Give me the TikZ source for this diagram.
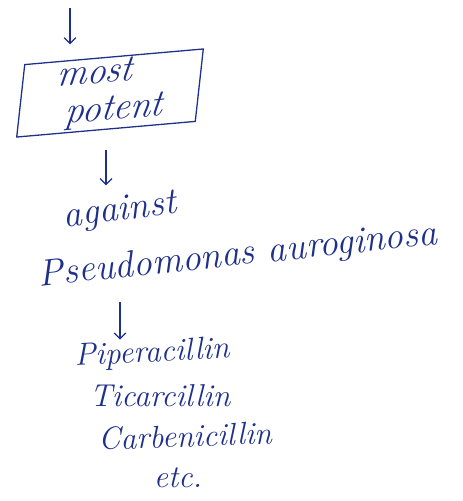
\documentclass[tikz,border=0pt]{standalone}
\usepackage{tikz}
\usetikzlibrary{arrows.meta,positioning}
\definecolor{inkblue}{HTML}{1E2F8C}
\tikzset{
  ink/.style={inkblue,line width=1.1pt},
  flowarrow/.style={-{Straight Barb[length=5pt,width=10pt]},ink},
  note/.style={text=inkblue,font=\fontsize{32}{36}\selectfont\itshape,inner sep=1pt},
  druglabel/.style={text=inkblue,font=\fontsize{27}{30}\selectfont\itshape,inner sep=0pt},
  notebox/.style={draw=inkblue,line width=1.1pt,note,align=left,minimum width=153pt,minimum height=61pt,inner xsep=14pt}
}
\begin{document}
\begin{tikzpicture}[x=0.03cm,y=-0.03cm]
  \useasboundingbox (0,0) rectangle (462,501);
  % box and the arrow into it
  \node[notebox,rotate=5,xslant=0.2] (box) at (110,93) {most\\[-4pt]\,\,potent};
  \coordinate (a1) at (70,8);
  \draw[flowarrow,shorten >=10pt] (a1) -- (a1 |- box.north);
  % against pseudomonas
  \node[note,rotate=7] (against) at (120,212) {against};
  \node[note,rotate=6] (pseudo) at (238,256) {Pseudomonas auroginosa};
  \coordinate (a2) at (106,150);
  \draw[flowarrow,shorten >=8pt] (a2) -- (a2 |- against.north);
  % the drugs
  \node[druglabel,rotate=3] (pip) at (152,354) {Piperacillin};
  \node[druglabel] (tic) at (160,396) {Ticarcillin};
  \node[druglabel,rotate=2] (carb) at (185,436) {Carbenicillin};
  \node[druglabel] (etc) at (178,478) {etc.};
  \coordinate (a3) at (120,302);
  \draw[flowarrow] (a3) -- (a3 |- pip.north);
\end{tikzpicture}
\end{document}
